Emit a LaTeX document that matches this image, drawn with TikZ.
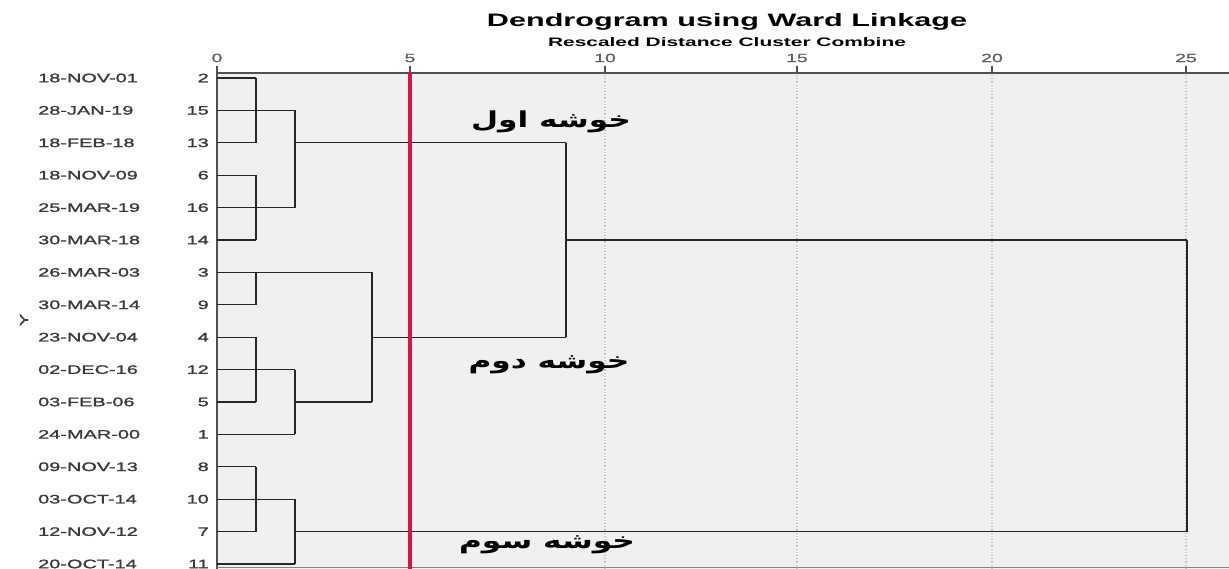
\documentclass[tikz,border=0pt]{standalone}
\usepackage{fontspec}
\setmainfont{Liberation Sans}
\newfontfamily\widesans[FakeStretch=1.62,FakeBold=1.6]{Liberation Sans}
\newfontfamily\ticksans[FakeStretch=1.62,FakeBold=1]{Liberation Sans}
\newfontfamily\titlesans[FakeStretch=1.7]{Liberation Sans}
\newfontfamily\farsi[Script=Arabic,FakeStretch=1.42]{DejaVu Sans}
\TeXXeTstate=1
\definecolor{plotbg}{HTML}{F0F0F0}
\definecolor{gridgray}{HTML}{C4C4C4}
\definecolor{cutred}{RGB}{214,22,72}
\definecolor{labelgray}{HTML}{3A3A3A}
\definecolor{axisgray}{HTML}{505050}
\definecolor{tickgray}{HTML}{606060}
\tikzset{
  hl/.style={draw=black!85, line width=1.3pt},
  vl/.style={draw=black!85, line width=2.3pt},
  gridline/.style={draw=gridgray, dotted, line width=1.2pt},
  axisline/.style={draw=axisgray, line width=1.4pt},
  datelabel/.style={anchor=west, inner sep=0pt, text=labelgray, font=\widesans\fontsize{12.3}{14}\selectfont},
  numlabel/.style={anchor=east, inner sep=0pt, text=labelgray, font=\widesans\fontsize{12.3}{14}\selectfont},
  ticklabel/.style={inner sep=0pt, text=tickgray, font=\ticksans\fontsize{12}{14}\selectfont},
  clusterlabel/.style={inner sep=0pt, font=\farsi\bfseries\fontsize{22}{26}\selectfont}
}
\begin{document}
\begin{tikzpicture}[x=1pt,y=-1pt]
\useasboundingbox (0,0) rectangle (1229,569);
\fill[white] (0,0) rectangle (1229,569);
% plot area
\fill[plotbg] (217,73) rectangle (1229,569);
\foreach \gx in {605,797,992,1186} \draw[gridline] (\gx,75) -- (\gx,569);
% titles
\node[inner sep=0pt, font=\titlesans\bfseries\fontsize{18}{22}\selectfont] (title) at (727,22) {Dendrogram using Ward Linkage};
\node[inner sep=0pt, font=\titlesans\bfseries\fontsize{12.3}{14}\selectfont] (subtitle) at (727,42) {Rescaled Distance Cluster Combine};
% axis ticks and labels
\foreach \gx/\v in {217/0,410/5,605/10,797/15,992/20,1186/25} {
  \draw[axisline] (\gx,66) -- (\gx,73);
  \node[ticklabel] (t\v) at (\gx,58) {\v};
}
\draw[axisline] (217,73) -- (1229,73);
\draw[axisline] (217,73) -- (217,569);
\draw[draw=axisgray!70, line width=1pt] (217,567.5) -- (1229,567.5);
% row labels and leaf anchors
\foreach \d/\n [count=\i from 0] in {18-NOV-01/2,28-JAN-19/15,18-FEB-18/13,18-NOV-09/6,25-MAR-19/16,30-MAR-18/14,26-MAR-03/3,30-MAR-14/9,23-NOV-04/4,02-DEC-16/12,03-FEB-06/5,24-MAR-00/1,09-NOV-13/8,03-OCT-14/10,12-NOV-12/7,20-OCT-14/11} {
  \coordinate (r\i) at (217,{78+32.4*\i});
  \node[datelabel] (d\i) at (38,{78+32.4*\i}) {\d};
  \node[numlabel] (n\i) at (209,{78+32.4*\i}) {\n};
}
\node[rotate=90, inner sep=0pt, text=labelgray, font=\ticksans\fontsize{12}{14}\selectfont] (ylab) at (24,320) {Y};
% merge levels
\coordinate (xa) at (256,0);
\coordinate (xb) at (295,0);
\coordinate (xc) at (372,0);
\coordinate (xd) at (566,0);
\coordinate (xe) at (1187,0);
% horizontal branches
\foreach \i in {0,2,3,5,7,8,10,12,14} \draw[hl] (r\i) -- (r\i -| xa);
\foreach \i in {1,4,9,11,13,15} \draw[hl] (r\i) -- (r\i -| xb);
\draw[hl] (r6) -- (r6 -| xc);
\draw[hl] (r2 -| xb) -- (r2 -| xd);
\draw[hl] (r10 -| xb) -- (r10 -| xc);
\draw[hl] (r8 -| xc) -- (r8 -| xd);
\draw[hl] (r5 -| xd) -- (r5 -| xe);
\draw[hl] (r14 -| xb) -- (r14 -| xe);
% vertical joins
\draw[vl] (r0 -| xa) -- (r2 -| xa);
\draw[vl] (r3 -| xa) -- (r5 -| xa);
\draw[vl] (r6 -| xa) -- (r7 -| xa);
\draw[vl] (r8 -| xa) -- (r10 -| xa);
\draw[vl] (r12 -| xa) -- (r14 -| xa);
\draw[vl] (r1 -| xb) -- (r4 -| xb);
\draw[vl] (r9 -| xb) -- (r11 -| xb);
\draw[vl] (r13 -| xb) -- (r15 -| xb);
\draw[vl] (r6 -| xc) -- (r10 -| xc);
\draw[vl] (r2 -| xd) -- (r8 -| xd);
\draw[vl] (r5 -| xe) -- (r14 -| xe);
% cut line at distance 5
\draw[draw=cutred, line width=4.5pt] (410,72) -- (410,569);
% cluster names
\node[clusterlabel] (c1) at (551,122) {\beginR خوشه اول\endR};
\node[clusterlabel] (c2) at (549,365) {\beginR خوشه دوم\endR};
\node[clusterlabel] (c3) at (547,545) {\beginR خوشه سوم\endR};
\end{tikzpicture}
\end{document}
